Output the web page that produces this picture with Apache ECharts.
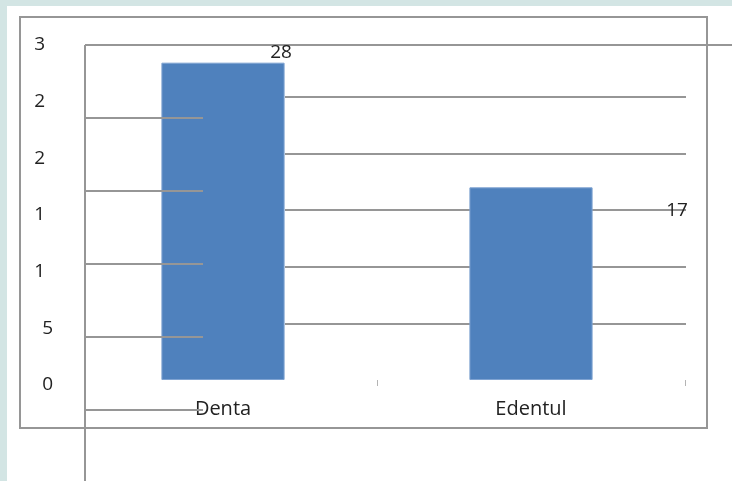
<!DOCTYPE html>
<html>
<head>
<meta charset="utf-8">
<script src="https://cdn.jsdelivr.net/npm/echarts@6/dist/echarts.min.js"></script>
<style>
  html, body { margin: 0; padding: 0; background: #d3e5e4; }
  #sheet { position: absolute; left: 7px; top: 6px; width: 725px; height: 475px; background: #fff; }
  #chart { position: absolute; left: 0; top: 0; width: 732px; height: 481px; }
</style>
</head>
<body>
<div id="sheet"></div>
<div id="chart"></div>
<script>
// data
var categories = ['Denta', 'Edentul'];
var counts = [28, 17];
var yTicks = [0, 5, 10, 15, 20, 25, 30];

var LINE = '#969696';
var FONT = '"Open Sans", "Noto Sans", sans-serif';

// label offsets (the labels sit oddly in the original)
var labelShift = [[58, 4], [146, 38]];

var chart = echarts.init(document.getElementById('chart'), null, {renderer: 'canvas'});

chart.setOption({
  animation: false,
  backgroundColor: 'transparent',
  textStyle: {fontFamily: FONT},
  grid: [
    // main bars
    {left: 69, right: 47, top: 40, bottom: 101},
    // right gridlines
    {left: 285, right: 46, top: 40, bottom: 101},
    // stray lines on the left
    {left: 85, width: 118, top: 45, bottom: 71},
    // the two visible category ticks
    {left: 377, right: 47, top: 40, bottom: 101}
  ],
  xAxis: [
    {
      gridIndex: 0,
      type: 'category',
      data: categories,
      axisLine: {show: false},
      axisTick: {show: false},
      axisLabel: {
        margin: 19,
        fontSize: 20,
        color: '#222',
        fontFamily: FONT
      }
    },
    {gridIndex: 1, type: 'value', show: false},
    {gridIndex: 2, type: 'value', show: false},
    {
      gridIndex: 3,
      type: 'value',
      min: 0,
      max: 1,
      interval: 1,
      axisLine: {show: false},
      axisLabel: {show: false},
      splitLine: {show: false},
      axisTick: {show: true, length: 6, lineStyle: {color: '#b4b4b4'}}
    }
  ],
  yAxis: [
    {
      gridIndex: 0,
      type: 'value',
      min: 0,
      max: 30,
      interval: 5,
      axisLine: {show: false},
      axisTick: {show: false},
      splitLine: {show: false},
      axisLabel: {
        margin: 16,
        fontSize: 19,
        color: '#222',
        fontFamily: FONT,
        padding: [10, 0, 0, 0],
        formatter: function (v) {
          var s = String(v);
          // only the first digit survives in the original
          return s.length > 1 ? '{p|' + s.charAt(0) + '}' : s;
        },
        rich: {
          p: {fontSize: 19, color: '#222', fontFamily: FONT, padding: [0, 8, 0, 0]}
        }
      }
    },
    {
      gridIndex: 1,
      type: 'value',
      min: 0,
      max: 30,
      interval: 5,
      axisLine: {show: false},
      axisTick: {show: false},
      axisLabel: {show: false},
      splitLine: {
        show: true,
        showMinLine: false,
        showMaxLine: false,
        lineStyle: {color: LINE, width: 2}
      }
    },
    {
      gridIndex: 2,
      type: 'value',
      min: 0,
      max: 5,
      interval: 1,
      z: 5,
      axisLine: {show: false},
      axisTick: {show: false},
      axisLabel: {show: false},
      splitLine: {show: true, lineStyle: {color: LINE, width: 2}}
    },
    {gridIndex: 3, type: 'value', show: false}
  ],
  series: [
    {
      type: 'bar',
      xAxisIndex: 0,
      yAxisIndex: 0,
      barWidth: '40%',
      itemStyle: {color: '#4f81bd', borderColor: '#7fa3d2', borderWidth: 1},
      label: {
        show: true,
        position: 'top',
        distance: 5,
        fontSize: 19,
        color: '#222',
        fontFamily: FONT
      },
      data: counts.map(function (v, i) {
        return {value: v, label: {offset: labelShift[i]}};
      })
    }
  ],
  graphic: [
    {
      type: 'rect',
      shape: {x: 20, y: 17, width: 687, height: 411},
      style: {fill: null, stroke: LINE, lineWidth: 2}
    },
    {
      type: 'line',
      shape: {x1: 85, y1: 45, x2: 85, y2: 481},
      style: {stroke: LINE, lineWidth: 2}
    },
    {
      type: 'line',
      shape: {x1: 85, y1: 45, x2: 732, y2: 45},
      style: {stroke: LINE, lineWidth: 2}
    }
  ]
});
</script>
</body>
</html>
